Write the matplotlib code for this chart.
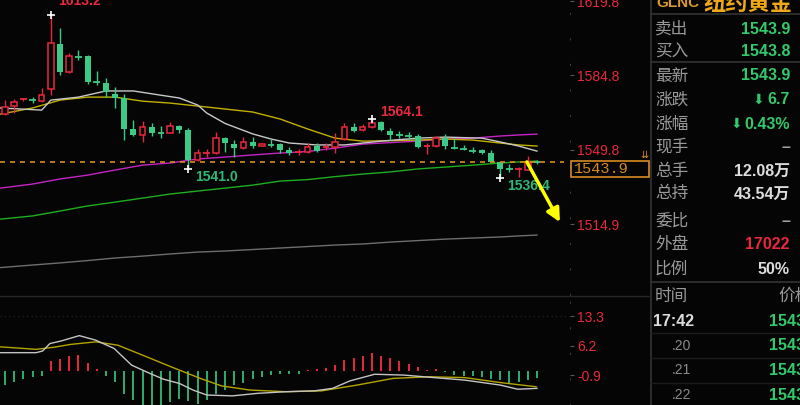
import matplotlib
matplotlib.use("Agg")
import matplotlib.pyplot as plt
from matplotlib.lines import Line2D
from matplotlib.patches import Rectangle

# ---- candle data ----
opens = [1566.6, 1570.4, 1573.2, 1573.6, 1572.7, 1578.4, 1599.6, 1586.4, 1594.2, 1593.9,
         1582.0, 1581.2, 1576.0, 1574.2, 1559.6, 1556.8, 1560.5, 1557.9, 1557.7, 1561.0,
         1559.1, 1545.0, 1547.6, 1548.3, 1555.3, 1552.5, 1550.6, 1553.5, 1551.6, 1552.7,
         1552.5, 1549.9, 1548.6, 1548.8, 1551.5, 1550.8, 1551.1, 1554.9, 1560.5, 1559.1,
         1560.5, 1562.9, 1558.6, 1557.4, 1556.7, 1556.3, 1551.1, 1551.6, 1555.3, 1551.4,
         1550.8, 1549.9, 1549.7, 1548.3, 1544.1, 1541.0, 1540.2, 1540.4, 1544.1]
highs = [1573.2, 1573.7, 1574.2, 1574.6, 1578.9, 1613.2, 1607.1, 1595.3, 1596.7, 1594.3,
         1586.9, 1583.6, 1579.3, 1576.0, 1563.8, 1563.3, 1562.4, 1561.0, 1562.9, 1561.4,
         1560.0, 1550.2, 1550.2, 1558.2, 1555.8, 1554.4, 1555.8, 1555.8, 1553.0, 1554.9,
         1553.0, 1551.1, 1550.2, 1553.0, 1553.0, 1552.8, 1557.7, 1562.4, 1562.4, 1561.9,
         1564.1, 1563.3, 1560.0, 1558.7, 1558.2, 1557.2, 1553.0, 1556.3, 1557.2, 1555.3,
         1552.3, 1551.2, 1550.2, 1549.7, 1544.3, 1543.0, 1541.7, 1546.9, 1545.0]
lows = [1566.3, 1567.1, 1573.0, 1571.8, 1572.5, 1575.6, 1585.0, 1586.0, 1592.0, 1581.0,
        1580.2, 1574.6, 1569.5, 1554.4, 1556.5, 1553.5, 1556.3, 1555.3, 1557.5, 1557.7,
        1541.0, 1544.6, 1546.4, 1548.0, 1548.8, 1546.4, 1550.3, 1550.6, 1551.4, 1551.1,
        1548.3, 1547.6, 1547.4, 1548.5, 1548.6, 1549.8, 1548.3, 1554.6, 1558.2, 1558.8,
        1560.3, 1558.8, 1554.4, 1555.6, 1555.0, 1550.8, 1547.9, 1551.3, 1550.2, 1550.1,
        1549.8, 1548.5, 1548.0, 1544.0, 1536.4, 1539.3, 1537.0, 1540.2, 1543.2]
closes = [1569.9, 1572.3, 1573.8, 1573.3, 1575.6, 1600.0, 1586.4, 1593.9, 1593.6, 1581.7,
          1581.5, 1577.0, 1574.2, 1559.6, 1556.8, 1560.5, 1557.7, 1557.5, 1561.0, 1559.1,
          1545.0, 1548.3, 1548.3, 1555.3, 1553.0, 1550.6, 1553.5, 1551.6, 1552.5, 1552.3,
          1549.7, 1548.5, 1549.0, 1551.1, 1549.2, 1551.3, 1553.5, 1560.5, 1558.6, 1560.5,
          1562.4, 1559.1, 1556.8, 1556.9, 1556.2, 1551.1, 1551.5, 1555.3, 1551.6, 1550.9,
          1550.4, 1549.4, 1548.3, 1544.1, 1540.7, 1540.6, 1540.6, 1544.0, 1543.9]

# moving averages, read at a few candle positions
ma_white_idx = [-0.5, 4, 5, 8, 11, 14, 17, 19, 21, 22, 24, 27, 29, 31, 34, 37, 39, 41, 45, 48, 52, 54, 56, 58]
ma_white = [1569.5, 1568.5, 1573.2, 1574.6, 1577.5, 1577.5, 1575.5, 1574.2, 1570.9, 1567.1,
            1562.2, 1557.3, 1554.9, 1553.0, 1552.1, 1552.1, 1553.0, 1553.9, 1555.3, 1555.8,
            1555.3, 1553.5, 1551.6, 1549.2]
ma_idx = [-0.5, 3, 6, 9, 12, 15, 18, 21, 24, 27, 30, 33, 36, 39, 42, 45, 48, 51, 54, 56, 58]
ma_yellow = [1566.6, 1569.5, 1573.2, 1574.6, 1574.6, 1572.7, 1571.8, 1570.4, 1569.0, 1567.6,
             1564.3, 1559.6, 1555.3, 1553.9, 1554.1, 1554.4, 1554.9, 1554.4, 1553.0, 1552.1, 1551.6]
ma_magenta = [1531.8, 1533.7, 1536.1, 1537.9, 1540.3, 1542.6, 1543.6, 1545.5, 1546.4, 1547.4,
              1548.3, 1549.0, 1550.6, 1552.5, 1553.2, 1553.9, 1554.9, 1555.3, 1556.3, 1556.8, 1557.2]
ma_green = [1517.2, 1518.7, 1521.0, 1523.4, 1525.2, 1527.1, 1529.0, 1530.4, 1531.8, 1533.2,
            1535.1, 1535.8, 1537.2, 1538.4, 1539.4, 1540.8, 1541.7, 1542.6, 1543.6, 1544.1, 1544.5]
ma_gray = [1494.4, 1495.6, 1496.6, 1497.7, 1498.9, 1499.8, 1500.8, 1501.7, 1502.2, 1502.9,
           1503.6, 1504.3, 1505.0, 1505.5, 1506.4, 1507.1, 1507.8, 1508.3, 1508.8, 1509.3, 1509.7]

price_ticks = [1619.8, 1584.8, 1549.8, 1514.9]
# (candle index, price, label, text offset in px)
extremes = [(5, 1613.2, "1613.2", (7, 14), "red"), (40, 1564.1, "1564.1", (8, 7), "red"),
            (20, 1541.0, "1541.0", (7, -8), "green"), (54, 1536.4, "1536.4", (7, -8), "green")]
arrow_from = (56.9, 1544.1)
arrow_to = (60.5, 1515.8)

# MACD
macd_hist = [-3.4, -2.6, -1.8, -1.4, -1.0, 2.6, 2.9, 3.7, 4.0, 2.1,
             0.6, -1.1, -2.6, -5.4, -7.0, -8.5, -8.5, -8.5, -7.4, -6.6,
             -7.2, -7.8, -7.0, -5.4, -4.6, -3.4, -2.7, -1.9, -1.4, -0.8,
             -0.6, -0.6, -0.6, 0.3, 0.6, 0.8, 1.6, 2.8, 3.3, 3.8,
             4.3, 3.8, 3.3, 2.4, 1.8, 1.0, 0.3, 0.5, -0.2, -0.8,
             -1.1, -1.1, -1.4, -1.8, -2.2, -2.7, -2.6, -2.2, -1.6]
dif_idx = [-0.5, 3.4, 4.1, 4.9, 6.1, 8.1, 9.9, 11.9, 13.8, 15.8, 17.3, 19.0, 20.5, 22.0,
           24.8, 27.5, 30.6, 33.7, 35.7, 37.6, 40.3, 43.5, 46.2, 50.1, 54.0, 55.9, 58]
dif_val = [4.5, 4.5, 4.9, 6.7, 7.3, 8.6, 7.5, 5.5, 1.5, -0.5, -1.9, -2.9, -4.5, -5.7,
           -5.9, -5.3, -4.9, -4.7, -4.1, -2.3, -0.7, -0.9, -1.4, -2.1, -3.3, -4.3, -4.1]
dea_idx = [-0.5, 3.4, 5.3, 7.2, 9.9, 12.3, 15.0, 18.1, 21.3, 23.6, 26.7, 30.6, 34.5, 38.4,
           42.3, 46.2, 50.1, 54.0, 57.9]
dea_val = [5.9, 5.3, 5.8, 6.5, 7.1, 6.3, 3.9, 1.1, -1.7, -3.5, -4.5, -4.9, -4.7, -3.3,
           -1.7, -1.3, -1.5, -2.7, -3.7]
macd_ticks = [13.3, 6.2, -0.9]

# quote panel rows: (label, value, colour)
quote_rows = [("卖出", "1543.9", "green"), ("买入", "1543.8", "green"), ("最新", "1543.9", "green"),
              ("涨跌", "6.7", "green_dn"), ("涨幅", "0.43%", "green_dn"), ("现手", "–", "gray"),
              ("总手", "12.08万", "white"), ("总持", "43.54万", "white"), ("委比", "–", "gray"),
              ("外盘", "17022", "red"), ("比例", "50%", "white")]
tick_times = ["17:42", ".20", ".21", ".22"]
tick_prices = ["1543", "1543", "1543", "1543"]

BG = "#050505"
RED = "#e8283c"
GREEN = "#3ccb86"
QGREEN = "#34c86c"
ORANGE = "#d88a22"
W, H = 800, 405
CJK = ["Noto Sans CJK SC", "DejaVu Sans"]
NUM = ["Liberation Sans", "Noto Sans CJK SC"]


def fx(px):
    return px / W


def fy(py):
    return 1 - py / H


fig = plt.figure(figsize=(8, 4.05), dpi=100, facecolor=BG)
ax = fig.add_axes([0, fy(295), fx(570), 295 / H], facecolor=BG)
ax2 = fig.add_axes([0, 0, fx(570), 108 / H], facecolor=BG)
n = len(closes)
for a in (ax, ax2):
    a.set_xlim(-0.545, 61.6)
    for s in ("top", "left", "bottom"):
        a.spines[s].set_visible(False)
    a.spines["right"].set_color("#3a3a3a")
    a.spines["right"].set_linestyle((0, (1, 22)))
    a.tick_params(axis="x", bottom=False, labelbottom=False)
    a.yaxis.tick_right()
    a.tick_params(axis="y", colors="#555555", labelcolor=RED, length=3, pad=2, labelsize=10)
    for lab in a.get_yticklabels():
        lab.set_family("Liberation Sans")

# --- main price panel ---
ax.set_ylim(1481.5, 1620.3)
ax.set_yticks(price_ticks)
ax.set_yticklabels([f"{v:.1f}" for v in price_ticks], family="Liberation Sans")

lw_ma = 1.0
ax.plot(ma_idx, ma_gray, color="#6e6e6e", lw=lw_ma, zorder=2)
ax.plot(ma_idx, ma_green, color="#1fae1f", lw=lw_ma, zorder=2)
ax.plot(ma_idx, ma_magenta, color="#c424c4", lw=lw_ma, zorder=2)
ax.plot(ma_idx, ma_yellow, color="#c2b000", lw=lw_ma, zorder=2)
ax.plot(ma_white_idx, ma_white, color="#c8c8c8", lw=lw_ma, zorder=2)

for i in range(n):
    o, h, l, c = opens[i], highs[i], lows[i], closes[i]
    up = c >= o
    col = RED if up else GREEN
    ax.vlines(i, l, h, color=col, lw=1.0, zorder=3)
    if abs(c - o) < 0.8:
        ax.hlines(c, i - 0.36, i + 0.36, color=col, lw=1.3, zorder=4)
    elif up:
        ax.bar(i, c - o, bottom=o, width=0.6, facecolor=BG, edgecolor=col, lw=1.1, zorder=4)
    else:
        ax.bar(i, o - c, bottom=c, width=0.66, color=col, lw=0, zorder=4)

for i, p, txt, off, kind in extremes:
    ax.plot(i, p, marker="+", color="white", ms=6, mew=1.2, zorder=5)
    ax.annotate(txt, xy=(i, p), xytext=off, textcoords="offset pixels",
                color=RED if kind == "red" else "#2fb878", fontsize=10, fontweight="bold",
                family="Liberation Sans", va="center", ha="left", zorder=5)

ax.axhline(closes[-1], xmin=0, xmax=0.99, color=ORANGE, lw=1.2, ls=(0, (3, 3)), zorder=6)
ax.annotate("", xy=arrow_to, xytext=arrow_from,
            arrowprops=dict(arrowstyle="-|>", color="#ffff00", lw=2.5, mutation_scale=20,
                            shrinkA=0, shrinkB=0), zorder=7)

# --- MACD panel ---
ax2.set_ylim(-8.1, 17.9)
ax2.set_yticks(macd_ticks)
ax2.set_yticklabels([f"{v:.1f}" for v in macd_ticks], family="Liberation Sans")
ax2.axhline(macd_ticks[0], color="#2a2a2a", lw=0.8, ls=(0, (1, 3)))
for i, v in enumerate(macd_hist):
    ax2.vlines(i, 0, v, color=RED if v > 0 else "#2fae6c", lw=1.4)
ax2.plot(dea_idx, dea_val, color="#b4a400", lw=1.0)
ax2.plot(dif_idx, dif_val, color="#c4c4c4", lw=1.0)

# --- separators ---
def hline(y, x0, x1, c="#2c2c2c", lw=1.0):
    fig.add_artist(Line2D([fx(x0), fx(x1)], [fy(y), fy(y)], color=c, lw=lw))


fig.add_artist(Line2D([fx(651), fx(651)], [0, 1], color="#333333", lw=1.2))
hline(296, 0, 651, "#262626")
hline(14, 651, 800, "#333333", 1.2)
hline(62, 651, 800, "#333333", 1.2)
hline(282, 651, 800, "#333333", 1.2)
for y in (333, 358, 383):
    hline(y, 651, 800, "#1c1c1c")

# current price box
fig.add_artist(Rectangle((fx(571), fy(177)), fx(78), 16 / H, transform=fig.transFigure,
                         fill=True, fc=BG, ec=ORANGE, lw=1.2))
fig.text(fx(574), fy(169), f"{closes[-1]:.1f}", color=ORANGE, fontsize=11,
         family="Liberation Mono", va="center", ha="left")
fig.text(fx(644), fy(155), "⇊", color=ORANGE, fontsize=7, family="DejaVu Sans",
         va="center", ha="center")

# --- quote panel ---
fig.text(fx(656), fy(3), "GLNC", color="#d89a30", fontsize=11, fontweight="bold",
         family="Liberation Sans", va="center", ha="left")
fig.text(fx(704), fy(3), "纽约黄金", color="#f0a818", fontsize=16, fontweight="bold",
         family=CJK, va="center", ha="left")

row_y = [29, 52, 76, 100, 124, 147, 171, 194, 221, 244, 269]
colours = {"green": QGREEN, "green_dn": QGREEN, "gray": "#a0a0a0", "white": "#dcdcdc", "red": RED}
for y, (lab, val, kind) in zip(row_y, quote_rows):
    fig.text(fx(655), fy(y), lab, color="#9a9a9a", fontsize=12, family=CJK, va="center", ha="left")
    fig.text(fx(790), fy(y), val, color=colours[kind], fontsize=11.5, fontweight="bold",
             family=NUM, va="center", ha="right")
    if kind == "green_dn":
        xa = 758 if len(val) < 4 else 736
        fig.text(fx(xa), fy(y), "⬇", color=QGREEN, fontsize=10, family="DejaVu Sans",
                 va="center", ha="center")

fig.text(fx(655), fy(296), "时间", color="#9a9a9a", fontsize=12, family=CJK, va="center", ha="left")
fig.text(fx(778), fy(296), "价格", color="#9a9a9a", fontsize=12, family=CJK, va="center", ha="left")
for k, (t, p) in enumerate(zip(tick_times, tick_prices)):
    y = 321 + k * 24.7
    if k == 0:
        fig.text(fx(653), fy(y), t, color="#dcdcdc", fontsize=11.5, fontweight="bold",
                 family="Liberation Sans", va="center", ha="left")
    else:
        fig.text(fx(672), fy(y), t, color="#8a8a8a", fontsize=10,
                 family="Liberation Sans", va="center", ha="left")
    fig.text(fx(769), fy(y), p, color=QGREEN, fontsize=11.5, fontweight="bold",
             family="Liberation Sans", va="center", ha="left")

fig.savefig("out.png", dpi=100, facecolor=BG)
